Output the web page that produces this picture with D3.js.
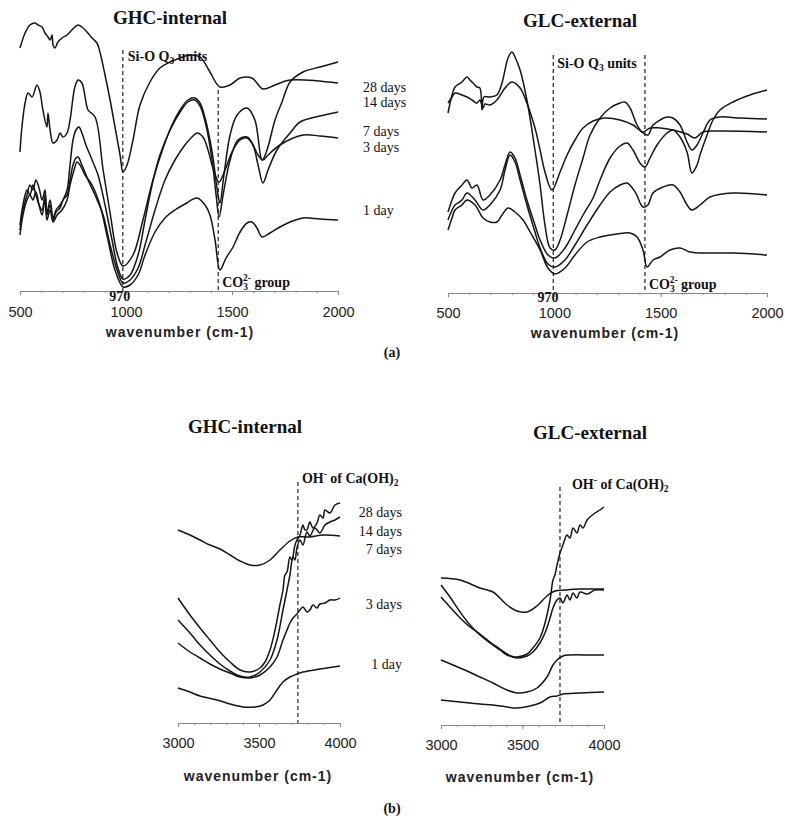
<!DOCTYPE html>
<html>
<head>
<meta charset="utf-8">
<script src="https://cdn.jsdelivr.net/npm/d3@7"></script>
<style>
  body { margin: 0; background: #fff; }
  svg { display: block; }
  .curve { fill: none; stroke: #151515; stroke-width: 1.5; stroke-linejoin: round; }
  .marker { stroke: #222; stroke-width: 1.2; stroke-dasharray: 4 3; }
  .axis path, .axis line { stroke: #888; }
  .axis text { font-family: "Liberation Sans", Arial, sans-serif; font-size: 14.5px; fill: #222; }
  .serif { font-family: "Liberation Serif", "Times New Roman", serif; fill: #111; }
  .title { font-size: 19px; font-weight: bold; }
  .note { font-size: 14px; font-weight: bold; }
  .day { font-size: 14px; }
  .xlabel { font-family: "Liberation Sans", Arial, sans-serif; font-size: 14px; font-weight: bold; letter-spacing: 1px; fill: #222; }
</style>
</head>
<body>
<svg id="chart" width="785" height="830"></svg>
<script>
// ---- data: [wavenumber (cm-1), relative absorbance (a.u.)] ----
const dayLabels = ['28 days', '14 days', '7 days', '3 days', '1 day'];
const midTicks = [500, 1000, 1500, 2000];
const ohTicks = [3000, 3500, 4000];

// band positions marked by dashed lines
const siBand = [985, 995];     // GHC, GLC
const co3Band = [1435, 1426];
const ohBand = [3740, 3730];

// (a) GHC-internal, 500-2000 cm-1
const ghcMidA = [[500,243],[524,258],[547,266],[571,268],[585,266],[604,264],[618,258],[632,254],[642,251],[651,256],[656,246],[665,243],[679,249],[698,253],[722,256],[736,259],[759,264],[774,266],[792,264],[816,259],[840,253],[863,248],[877,239],[901,216],[925,191],[948,164],[972,136],[986,119],[1005,126],[1033,151],[1066,186],[1113,209],[1160,223],[1208,229],[1255,233],[1302,236],[1349,234],[1396,219],[1443,204],[1491,206],[1538,213],[1594,213],[1646,202],[1703,206],[1774,211],[2000,208]];
const ghcMidB = [[500,139],[509,164],[524,188],[538,198],[557,194],[580,206],[594,199],[608,181],[627,164],[632,178],[642,161],[656,148],[675,151],[689,158],[703,154],[722,158],[736,171],[759,204],[774,211],[792,208],[807,194],[821,181],[854,174],[892,121],[925,78],[958,38],[986,25],[1033,36],[1080,71],[1127,111],[1175,143],[1217,166],[1255,181],[1292,191],[1325,193],[1349,188],[1373,173],[1396,151],[1410,134],[1434,96],[1443,88],[1462,116],[1491,156],[1524,176],[1571,183],[1608,171],[1642,131],[1665,141],[1703,171],[1736,189],[1774,209],[1835,219],[1915,224],[2000,229]];
const ghcMidC = [[500,61],[514,81],[533,96],[547,106],[561,101],[575,111],[590,103],[604,91],[618,101],[627,78],[642,91],[656,73],[670,81],[689,86],[703,91],[722,101],[736,126],[750,151],[764,161],[778,164],[792,158],[811,146],[840,131],[868,116],[901,86],[934,51],[962,23],[986,12],[1019,16],[1057,36],[1090,71],[1123,106],[1160,136],[1208,161],[1255,179],[1292,189],[1325,191],[1349,185],[1377,166],[1406,131],[1425,96],[1439,74],[1458,96],[1491,131],[1528,151],[1571,154],[1599,146],[1623,126],[1646,108],[1670,121],[1712,141],[1774,158],[1821,169],[1915,175],[2000,179]];
const ghcMidD = [[500,66],[514,86],[533,101],[547,96],[561,106],[575,96],[590,86],[604,81],[618,96],[627,76],[642,86],[656,71],[670,79],[689,83],[703,91],[722,96],[736,111],[750,126],[764,133],[774,134],[792,126],[821,111],[854,96],[892,76],[925,46],[958,21],[986,8],[1019,11],[1057,23],[1090,46],[1137,81],[1184,111],[1231,131],[1278,146],[1311,154],[1335,158],[1363,154],[1387,141],[1410,123],[1439,109],[1467,121],[1500,139],[1538,151],[1571,153],[1599,146],[1623,136],[1646,131],[1670,136],[1726,146],[1835,156],[1915,155],[2000,153]];
const ghcMidE = [[500,56],[514,76],[533,91],[547,96],[561,91],[575,99],[590,86],[604,76],[618,91],[627,71],[642,81],[656,69],[675,76],[698,81],[722,91],[736,106],[755,121],[769,129],[783,126],[807,116],[840,106],[877,86],[915,51],[948,21],[986,4],[1019,6],[1057,16],[1090,36],[1137,59],[1184,73],[1231,81],[1278,87],[1335,93],[1373,86],[1396,76],[1420,51],[1443,21],[1472,33],[1505,44],[1538,59],[1571,68],[1594,69],[1618,63],[1642,54],[1679,58],[1726,64],[1774,69],[1835,73],[1915,72],[2000,71]];

// (a) GLC-external, 500-2000 cm-1
const glcMidA = [[500,180],[519,198],[533,206],[566,211],[589,216],[603,213],[618,210],[636,206],[650,205],[660,183],[669,196],[697,196],[730,198],[754,210],[768,223],[782,235],[801,241],[815,236],[839,223],[871,193],[909,143],[933,108],[956,68],[980,45],[1003,43],[1027,53],[1060,78],[1097,108],[1135,135],[1168,158],[1215,175],[1262,185],[1309,190],[1332,191],[1356,185],[1389,168],[1417,160],[1440,158],[1464,168],[1497,173],[1530,176],[1558,175],[1591,168],[1624,151],[1647,143],[1671,148],[1699,160],[1732,173],[1779,176],[1873,175],[2000,174]];
const glcMidB = [[500,190],[519,196],[533,200],[566,198],[589,196],[613,193],[636,190],[650,193],[665,185],[674,189],[697,188],[730,193],[768,205],[801,211],[839,205],[871,190],[909,165],[933,143],[956,121],[989,103],[1027,121],[1060,138],[1097,153],[1135,165],[1182,172],[1238,175],[1309,173],[1370,168],[1417,161],[1450,165],[1497,165],[1558,163],[1624,159],[1661,155],[1699,161],[1779,162],[2000,161]];
const glcMidC = [[500,81],[519,93],[533,100],[566,108],[589,113],[613,105],[636,108],[665,93],[697,98],[745,113],[768,128],[792,141],[815,135],[839,118],[871,93],[909,68],[933,53],[970,38],[1003,35],[1050,45],[1097,63],[1135,78],[1182,95],[1215,113],[1262,135],[1309,147],[1342,150],[1370,143],[1403,130],[1426,126],[1450,135],[1483,148],[1530,160],[1558,163],[1591,156],[1624,141],[1647,120],[1671,128],[1685,138],[1718,158],[1746,173],[1779,183],[1840,191],[1920,198],[2000,203]];
const glcMidD = [[500,73],[519,83],[533,88],[566,93],[589,100],[627,93],[665,83],[697,88],[745,103],[768,123],[792,138],[815,131],[839,113],[871,88],[909,61],[933,45],[970,29],[1003,26],[1050,33],[1097,48],[1154,68],[1215,88],[1262,101],[1309,108],[1342,110],[1380,101],[1417,86],[1440,88],[1464,100],[1511,106],[1558,108],[1591,101],[1624,88],[1647,83],[1685,88],[1732,96],[1840,100],[2000,98]];
const glcMidE = [[500,63],[519,75],[533,83],[566,88],[589,93],[627,88],[665,75],[697,71],[730,71],[754,78],[782,85],[815,81],[853,73],[886,61],[933,43],[970,25],[1003,19],[1050,25],[1097,38],[1154,51],[1215,56],[1295,59],[1356,60],[1389,56],[1417,43],[1436,26],[1464,33],[1497,36],[1544,43],[1591,45],[1638,41],[1685,40],[1840,40],[2000,38]];

// (b) GHC-internal, 3000-4000 cm-1
const ghcOhA = [[3000,193],[3074,188],[3136,183],[3197,178],[3259,174],[3321,168],[3383,162],[3444,158],[3506,158],[3568,163],[3629,173],[3691,182],[3740,186],[3814,186],[3895,188],[4000,187]];
const ghcOhB = [[3000,125],[3074,108],[3136,95],[3197,83],[3259,71],[3321,61],[3383,53],[3444,51],[3506,55],[3537,61],[3568,73],[3599,93],[3629,118],[3648,133],[3660,148],[3673,151],[3691,166],[3703,163],[3722,178],[3734,183],[3753,188],[3771,198],[3784,193],[3796,193],[3814,201],[3833,195],[3858,200],[3876,208],[3895,205],[3907,213],[3938,210],[3969,218],[4000,220]];
const ghcOhC = [[3000,103],[3074,90],[3136,78],[3197,68],[3259,59],[3321,52],[3383,47],[3444,46],[3506,51],[3568,63],[3611,83],[3648,113],[3673,133],[3691,148],[3710,166],[3722,163],[3734,175],[3753,183],[3771,178],[3796,191],[3814,187],[3845,195],[3876,190],[3907,198],[3938,201],[3969,203],[4000,206]];
const ghcOhD = [[3000,80],[3074,71],[3136,65],[3197,59],[3259,54],[3321,50],[3383,46],[3444,45],[3506,48],[3568,56],[3611,66],[3648,83],[3673,93],[3691,100],[3710,105],[3734,109],[3753,113],[3771,116],[3796,111],[3814,113],[3833,118],[3858,115],[3876,119],[3907,120],[3938,123],[3969,123],[4000,125]];
const ghcOhE = [[3000,35],[3074,31],[3136,27],[3241,23],[3321,19],[3401,16],[3475,16],[3525,18],[3568,23],[3611,33],[3648,41],[3691,46],[3734,49],[3771,51],[3876,54],[4000,57]];

// (b) GLC-external, 3000-4000 cm-1
const glcOhA = [[3000,147],[3117,145],[3239,137],[3319,133],[3405,120],[3466,114],[3528,113],[3589,119],[3650,129],[3699,134],[3761,135],[3853,136],[4000,136]];
const glcOhB = [[3000,140],[3055,128],[3117,113],[3178,100],[3239,90],[3301,82],[3362,75],[3405,70],[3466,68],[3528,71],[3564,77],[3607,87],[3638,102],[3669,125],[3687,145],[3699,150],[3712,160],[3730,172],[3748,180],[3773,190],[3791,187],[3810,197],[3834,192],[3853,200],[3871,197],[3896,205],[3914,208],[3945,212],[3975,215],[4000,218]];
const glcOhC = [[3000,128],[3055,118],[3117,107],[3178,98],[3239,91],[3301,83],[3362,76],[3405,71],[3466,67],[3528,69],[3564,73],[3607,82],[3638,92],[3669,107],[3687,117],[3712,125],[3730,127],[3748,122],[3773,130],[3791,125],[3810,132],[3834,127],[3853,133],[3896,131],[3945,135],[4000,135]];
const glcOhD = [[3000,65],[3117,57],[3239,48],[3319,42],[3405,35],[3466,32],[3528,33],[3589,37],[3650,48],[3687,60],[3712,65],[3748,69],[3791,70],[3914,70],[4000,70]];
const glcOhE = [[3000,25],[3117,23],[3239,21],[3319,20],[3405,18],[3466,17],[3546,19],[3607,22],[3669,28],[3712,29],[3748,31],[3853,32],[4000,33]];

const svg = d3.select('#chart');

// text helper with sub/superscript pieces: [text, 'sub'|'sup'|null, dx]
function richText(parent, x, y, parts, cls) {
  const t = parent.append('text').attr('class', 'serif ' + cls).attr('x', x).attr('y', y);
  let shift = 0;
  parts.forEach(([s, kind, dx]) => {
    const target = kind === 'sub' ? 3 : kind === 'sup' ? -6 : 0;
    const ts = t.append('tspan').text(s).attr('dy', target - shift);
    if (dx) ts.attr('dx', dx);
    if (kind) ts.attr('font-size', 9.5);
    shift = target;
  });
  return t;
}

// one panel = x axis + curves + dashed band markers
function drawPanel(p) {
  const x = d3.scaleLinear().domain(p.domain).range(p.range);
  const y = d3.scaleLinear().domain([0, 300]).range([p.base, p.base - 300]);
  const g = svg.append('g');

  // minor + major ticks
  g.append('g').attr('class', 'axis')
    .attr('transform', `translate(0,${p.base})`)
    .call(d3.axisBottom(x).tickValues(d3.range(p.domain[0], p.domain[1] + 1, 100))
      .tickSize(2).tickSizeOuter(0).tickFormat(''));
  const ax = g.append('g').attr('class', 'axis')
    .attr('transform', `translate(0,${p.base})`)
    .call(d3.axisBottom(x).tickValues(p.ticks).tickSize(4).tickSizeOuter(0).tickFormat(d3.format('d')));
  ax.select('.domain').remove();
  ax.selectAll('text').attr('y', p.tickY).attr('dy', 0);

  g.append('text').attr('class', 'xlabel')
    .attr('x', p.labelX).attr('y', p.base + p.labelY)
    .attr('text-anchor', 'middle').text('wavenumber (cm-1)');

  p.markers.forEach(m => {
    g.append('line').attr('class', 'marker')
      .attr('x1', x(m.at)).attr('x2', x(m.at))
      .attr('y1', m.top).attr('y2', p.base);
  });

  const line = d3.line()
    .x(d => x(d[0])).y(d => y(d[1]))
    .curve(d3.curveCatmullRom.alpha(0.5));
  g.selectAll('path.curve').data(p.curves).enter()
    .append('path').attr('class', 'curve').attr('d', line);

  return { g, x };
}

// ---------- (a) mid-IR ----------
const a1 = drawPanel({
  domain: [500, 2000], range: [20, 338], base: 291, ticks: midTicks,
  tickY: 26, labelX: 180, labelY: 46,
  markers: [{ at: siBand[0], top: 50 }, { at: co3Band[0], top: 90 }],
  curves: [ghcMidA, ghcMidB, ghcMidC, ghcMidD, ghcMidE]
});
const a2 = drawPanel({
  domain: [500, 2000], range: [448, 767], base: 293, ticks: midTicks,
  tickY: 25, labelX: 605, labelY: 45,
  markers: [{ at: siBand[1], top: 55 }, { at: co3Band[1], top: 55 }],
  curves: [glcMidA, glcMidB, glcMidC, glcMidD, glcMidE]
});

svg.append('text').attr('class', 'serif title').attr('x', 170).attr('y', 24)
  .attr('text-anchor', 'middle').text('GHC-internal');
svg.append('text').attr('class', 'serif title').attr('x', 580).attr('y', 27)
  .attr('text-anchor', 'middle').text('GLC-external');

richText(svg, a1.x(siBand[0]) + 5, 61, [['Si-O Q'], ['3', 'sub'], [' units']], 'note');
richText(svg, a2.x(siBand[1]) + 4, 68, [['Si-O Q'], ['3', 'sub'], [' units']], 'note');
richText(svg, a1.x(co3Band[0]) + 4, 287, [['CO'], ['3', 'sub'], ['2-', 'sup', -5], [' group']], 'note');
richText(svg, a2.x(co3Band[1]) + 4, 289, [['CO'], ['3', 'sub'], ['2-', 'sup', -5], [' group']], 'note');

svg.append('text').attr('class', 'serif note').attr('x', a1.x(970)).attr('y', 301)
  .attr('text-anchor', 'middle').attr('font-size', 11.5).text('970');
svg.append('text').attr('class', 'serif note').attr('x', a2.x(970)).attr('y', 302)
  .attr('text-anchor', 'middle').attr('font-size', 11.5).text('970');

const dayYa = [92, 107, 136, 152, 215];
dayLabels.forEach((d, i) => {
  svg.append('text').attr('class', 'serif day').attr('x', 363).attr('y', dayYa[i]).text(d);
});

svg.append('text').attr('class', 'serif note').attr('x', 392).attr('y', 357)
  .attr('text-anchor', 'middle').attr('font-size', 14).text('(a)');

// ---------- (b) OH region ----------
const b1 = drawPanel({
  domain: [3000, 4000], range: [178, 340], base: 723, ticks: ohTicks,
  tickY: 25, labelX: 258, labelY: 58,
  markers: [{ at: ohBand[0], top: 482 }],
  curves: [ghcOhA, ghcOhB, ghcOhC, ghcOhD, ghcOhE]
});
const b2 = drawPanel({
  domain: [3000, 4000], range: [441, 604], base: 725, ticks: ohTicks,
  tickY: 25, labelX: 520, labelY: 57,
  markers: [{ at: ohBand[1], top: 487 }],
  curves: [glcOhA, glcOhB, glcOhC, glcOhD, glcOhE]
});

svg.append('text').attr('class', 'serif title').attr('x', 245).attr('y', 433)
  .attr('text-anchor', 'middle').text('GHC-internal');
svg.append('text').attr('class', 'serif title').attr('x', 590).attr('y', 439)
  .attr('text-anchor', 'middle').text('GLC-external');

richText(svg, b1.x(ohBand[0]) + 4, 483, [['OH'], ['-', 'sup'], [' of Ca(OH)'], ['2', 'sub']], 'note');
richText(svg, b2.x(ohBand[1]) + 12, 489, [['OH'], ['-', 'sup'], [' of Ca(OH)'], ['2', 'sub']], 'note');

const dayYb = [517, 536, 554, 609, 669];
dayLabels.forEach((d, i) => {
  svg.append('text').attr('class', 'serif day').attr('x', 402).attr('y', dayYb[i])
    .attr('text-anchor', 'end').text(d);
});

svg.append('text').attr('class', 'serif note').attr('x', 392).attr('y', 813)
  .attr('text-anchor', 'middle').attr('font-size', 14).text('(b)');
</script>
</body>
</html>
